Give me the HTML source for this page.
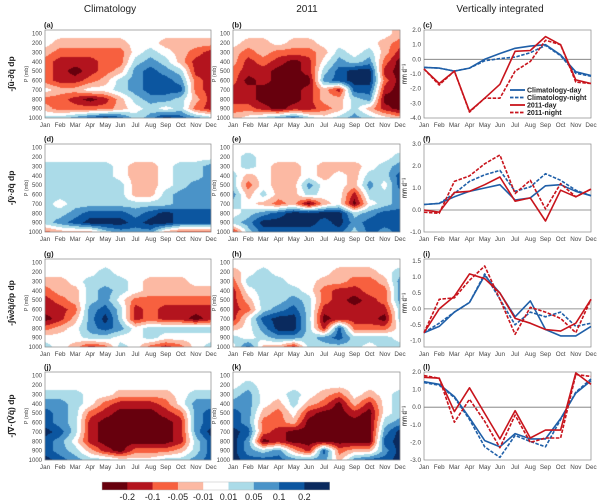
<!DOCTYPE html>
<html><head><meta charset="utf-8">
<style>
html,body{margin:0;padding:0;background:#fff;}
#wrap{position:relative;width:600px;height:504px;overflow:hidden;font-family:"Liberation Sans",sans-serif;}
canvas{position:absolute;left:0;top:0;}
svg{position:absolute;left:0;top:0;}
</style></head>
<body>
<div id="wrap">
<canvas id="cv" width="600" height="504"></canvas>
<svg id="sv" width="600" height="504" xmlns="http://www.w3.org/2000/svg"></svg>
</div>
<script>
// ---------- data ----------
const months = ["Jan","Feb","Mar","Apr","May","Jun","Jul","Aug","Sep","Oct","Nov","Dec"];
const levels = [100,200,300,400,500,600,700,800,900,1000];
const colorbarTicks = ["-0.2","-0.1","-0.05","-0.01","0.01","0.05","0.1","0.2"];
// contour level-class index (-4..4) per pressure level (rows) and month (cols)
const panelA = [
[0,0,0,0,0,0,0,0,0,0,0,0],
[0,-1,-1,-1,-1,-1,0,0,-1,-1,-1,-1],
[-1,-2,-2,-2,-2,-2,0,1,0,-1,-2,-3],
[-2,-3,-3,-3,-2,-2,1,2,1,-1,-3,-3],
[-2,-3,-4,-3,-2,-1,2,3,2,1,-3,-3],
[-2,-3,-3,-2,-1,1,2,3,3,2,-2,-3],
[0,-1,-1,0,0,1,2,3,3,3,-2,-3],
[-2,-2,-3,-4,-3,-1,1,2,2,1,-1,-3],
[-1,-2,-2,-2,-2,-1,0,1,0,1,-2,-3],
[1,1,2,3,4,3,1,2,4,3,2,1]];
const panelB = [
[0,0,0,0,0,0,0,0,0,0,0,-1],
[0,-1,-1,0,-1,-1,0,0,0,0,-1,-2],
[-1,-2,-1,-2,-2,-2,-1,1,0,1,-1,-3],
[-1,-3,-2,-3,-4,-3,0,2,1,2,-2,-4],
[-2,-3,-3,-4,-4,-3,1,3,4,4,-3,-4],
[-2,-4,-3,-4,-4,-4,2,3,4,4,-2,-4],
[-3,-3,-4,-4,-4,-3,-1,-3,3,3,-3,-4],
[-3,-3,-4,-4,-4,-3,-1,-1,1,2,-4,-4],
[-2,-2,-3,-4,-3,-3,-2,-1,1,-1,-3,-4],
[-1,0,1,2,3,1,0,1,2,1,0,-1]];
const panelD = [
[0,0,0,0,0,0,0,0,0,0,0,0],
[0,0,0,0,0,0,0,0,0,0,0,0],
[1,1,1,1,1,0,-1,-1,0,1,1,2],
[1,1,1,1,1,0,-1,-1,0,1,1,2],
[1,1,1,1,1,1,-1,-1,0,1,2,2],
[1,1,1,1,1,1,-1,-1,1,2,2,2],
[1,0,1,1,1,1,1,1,1,2,2,2],
[1,1,2,3,3,3,2,3,4,3,3,3],
[1,2,3,4,4,4,3,4,4,3,3,3],
[-2,-1,-1,-1,1,2,2,2,-1,-2,-2,-2]];
const panelE = [
[0,0,0,0,0,0,0,0,0,0,0,0],
[0,1,0,0,0,0,0,0,0,0,0,1],
[0,1,0,-1,-1,0,-1,-1,-1,0,1,2],
[1,-1,0,-1,-1,0,-1,0,-1,1,1,3],
[1,-2,0,-1,-1,2,0,0,-1,2,0,3],
[2,-1,1,-1,-1,1,0,0,-3,1,1,2],
[1,0,-1,-2,-1,-4,-1,0,-4,0,1,2],
[0,1,2,3,4,4,4,4,1,2,3,3],
[1,2,4,4,4,4,3,4,2,3,3,3],
[-3,1,3,3,3,3,3,3,1,3,2,3]];
const panelG = [
[0,0,0,0,0,0,0,0,0,0,0,0],
[0,0,0,0,1,0,0,0,0,0,0,0],
[-1,-1,0,1,1,1,0,-1,-1,-1,0,0],
[-2,-1,-1,1,2,1,0,-1,-1,-1,-1,-1],
[-3,-2,-1,1,2,0,-2,-2,-2,-2,-2,-2],
[-3,-3,-2,2,3,1,-3,-2,-3,-3,-3,-3],
[-4,-3,-1,2,4,1,-3,-2,-3,-3,-4,-3],
[-2,-1,0,2,3,2,0,1,1,1,1,1],
[0,0,0,1,1,0,0,1,0,0,0,0],
[1,0,-1,-3,-2,1,0,-2,-3,-2,0,1]];
const panelH = [
[0,0,0,0,0,0,0,0,0,0,0,0],
[-1,0,1,0,0,0,0,-1,-1,-1,0,1],
[-2,1,1,1,0,0,-1,-1,-2,-2,-1,2],
[-3,0,1,1,1,0,-2,-3,-3,-2,-2,2],
[-3,-1,1,1,2,1,-2,-3,-4,-3,-2,2],
[-3,-2,1,2,3,1,-3,-3,-3,-3,-3,1],
[-3,0,3,4,4,1,-4,-3,-3,-3,-4,1],
[-1,0,2,4,4,1,-3,3,-2,-2,-2,0],
[1,0,1,2,2,1,2,3,1,1,1,0],
[0,3,-1,-1,-3,1,1,1,1,0,1,1]];
const panelJ = [
[0,0,0,0,0,0,0,0,0,0,0,0],
[0,0,0,0,0,0,0,0,0,0,0,0],
[1,1,1,0,0,-1,-1,-1,-1,0,1,1],
[2,2,1,0,-2,-3,-3,-3,-2,0,2,2],
[3,2,1,-2,-3,-4,-4,-4,-3,-2,2,3],
[3,2,1,-3,-4,-4,-4,-4,-4,-3,2,3],
[4,3,1,-3,-4,-4,-4,-4,-4,-3,2,4],
[3,2,0,-3,-4,-4,-4,-4,-4,-3,1,3],
[3,2,1,-1,-3,-4,-2,-2,-2,-1,1,3],
[4,3,2,1,1,0,0,0,1,1,2,3]];
const panelK = [
[0,0,0,0,0,0,0,0,0,0,0,0],
[0,1,0,0,0,0,0,0,0,0,0,0],
[1,2,0,0,1,0,-1,-2,0,-1,0,1],
[2,2,0,-1,1,-1,-2,-4,-1,-3,0,1],
[3,2,-1,-2,0,-3,-4,-4,-3,-4,0,1],
[3,2,-2,-2,-1,-4,-4,-4,-4,-4,1,2],
[4,3,-2,-3,-4,-4,-4,-4,-4,-4,2,4],
[4,2,-4,-3,-4,-4,-4,-4,-4,-4,3,4],
[4,2,1,2,-1,-3,3,-2,-1,-1,2,4],
[4,3,3,3,2,2,2,-1,2,3,3,4]];
// line panels (mm/day)
const cClimDay   = [-0.55,-0.6,-0.8,-0.6,0,0.4,0.75,0.9,1.0,0.3,-0.85,-1.1];
const cClimNight = [-0.55,-0.6,-0.8,-0.6,-0.1,0.05,0.15,0.45,0.95,0.25,-0.95,-1.15];
const c2011Day   = [-0.65,-1.65,-0.8,-3.55,-2.65,-1.7,0.55,0.6,1.55,1.0,-1.4,-1.65];
const c2011Night = [-0.65,-1.75,-0.8,-3.6,-2.65,-2.65,-0.8,-0.15,1.3,1.0,-1.55,-1.65];
const fClimDay   = [0.25,0.3,0.6,0.85,1.0,1.15,0.45,0.55,1.1,1.15,0.85,0.65];
const fClimNight = [0.25,0.3,0.75,1.3,1.6,1.8,0.85,1.05,1.65,1.35,0.9,0.65];
const f2011Day   = [0,-0.1,0.8,0.85,1.15,1.5,0.4,0.55,-0.5,0.9,0.6,0.95];
const f2011Night = [-0.1,-0.15,1.3,1.55,2.1,2.5,0.75,1.35,0.05,1.2,0.6,0.95];
const iClimDay   = [-0.75,-0.55,-0.1,0.2,1.05,0.5,-0.25,0.25,-0.65,-0.85,-0.85,-0.55];
const iClimNight = [-0.75,-0.45,-0.1,0.2,1.1,0.3,-0.5,-0.1,-0.25,-0.1,-0.55,-0.45];
const i2011Day   = [-0.75,0,0.4,1.1,0.95,0.5,-0.3,-0.45,-0.65,-0.7,-0.45,0.3];
const i2011Night = [-0.75,0.3,0.35,0.9,1.35,0.3,-0.8,0.05,-0.1,-0.3,-0.75,0.3];
const lClimDay   = [1.45,1.3,0.6,-0.6,-1.9,-2.25,-1.5,-1.8,-1.8,-0.65,0.8,1.5];
const lClimNight = [1.4,1.25,0.55,-0.7,-2.25,-2.85,-1.6,-1.95,-2.25,-0.7,0.85,1.6];
const l2011Day   = [1.7,1.65,-0.25,1.1,-0.35,-1.8,-0.2,-1.75,-1.3,-1.3,1.95,1.3];
const l2011Night = [1.8,1.65,-0.85,0.45,-0.8,-2.3,-0.45,-2.0,-1.75,-1.75,1.85,1.75];
const cTicks = [2,1,0,-1,-2,-3,-4];
const fTicks = [3,2,1,0,-1];
const iTicks = [1.5,1,0.5,0,-0.5,-1];
const lTicks = [2,1,0,-1,-2,-3];

// ---------- layout ----------
const colors = ['#67000d','#b3141e','#f7603f','#fcb9a3','#ffffff','#abdbe8','#4a93c8','#0c56a0','#0a2a5e'];
const rowTop = [30,144,259,372], H = 88;
const colA = [45,211], colB = [233,400], colC = [424,591];
const NS = "http://www.w3.org/2000/svg";
const sv = document.getElementById('sv');
const ctx = document.getElementById('cv').getContext('2d');
function el(tag, attrs, parent, text){
  const e = document.createElementNS(NS, tag);
  for (const k in attrs) e.setAttribute(k, attrs[k]);
  if (text !== undefined) e.textContent = text;
  (parent||sv).appendChild(e);
  return e;
}
function txt(x,y,s,size,opts,name){
  const t = el('text', Object.assign({x:x,y:y,'font-size':size,'font-family':'Liberation Sans, DejaVu Sans, sans-serif',fill:'#222'},opts||{}), sv, s);
  
  
  return t;
}
function monthAxis(x0,x1,top,g){
  months.forEach((m,i)=>{
    const x = x0 + i/11*(x1-x0);
    const t = txt(x, top+H+9, m, 6.3, {'text-anchor':'middle',fill:'#444'}, 'month-tick-label');
  });
}

// ---------- contour panels ----------
function contour(data, x0, x1, top, letter, name, showMM){
  const w = x1-x0;
  const pTop = 60;
  for (let py=0; py<H; py++){
    const p = pTop + (py+0.5)/H*(1000-pTop);
    let r = (p-100)/100; if (r<0) r=0; if (r>9) r=9;
    const r0 = Math.min(8, Math.floor(r)), fr = r - r0;
    for (let px=0; px<w; px++){
      const c = (px+0.5)/w*11;
      const c0 = Math.min(10, Math.floor(c)), fc = c - c0;
      const v = (data[r0][c0]*(1-fc)+data[r0][c0+1]*fc)*(1-fr) + (data[r0+1][c0]*(1-fc)+data[r0+1][c0+1]*fc)*fr;
      let k = Math.round(v); if (k<-4) k=-4; if (k>4) k=4;
      ctx.fillStyle = colors[k+4];
      ctx.fillRect(x0+px, top+py, 1, 1);
    }
  }
  const g = el('rect',{x:x0,y:top,width:w,height:H,fill:'none',stroke:'#888','stroke-width':0.7});
  
  
  levels.forEach(p=>{
    const y = top + (p-pTop)/(1000-pTop)*H;
    txt(x0-3, y+2, String(p), 6, {'text-anchor':'end',fill:'#444'}, 'pressure-tick-label');
  });
  txt(x0-1, top-2.5, '('+letter+')', 7.5, {'font-weight':'bold','text-anchor':'start'}, 'panel-letter');
  txt(x0-17, top+H/2, 'P (mb)', 5.5, {'text-anchor':'middle',fill:'#444',transform:'rotate(-90 '+(x0-17)+' '+(top+H/2)+')'}, 'pressure-axis-title');
  if (showMM) txt(x1+6, top+H/2, 'mm d\u207B\u00B9', 6, {'text-anchor':'middle',fill:'#444',transform:'rotate(-90 '+(x1+6)+' '+(top+H/2)+')'}, 'units-label');
  monthAxis(x0,x1,top);
}

// ---------- line panels ----------
function linePanel(series, ymin, ymax, ticks, top, letter, legend){
  const x0 = colC[0], x1 = colC[1];
  const xs = i => x0 + i/11*(x1-x0);
  const ys = v => top + (ymax - v)/(ymax-ymin)*H;
  const fr = el('rect',{x:x0,y:top,width:x1-x0,height:H,fill:'none',stroke:'#888','stroke-width':0.7});
  
  
  const z = el('line',{x1:x0,x2:x1,y1:ys(0),y2:ys(0),stroke:'#777','stroke-width':0.8});
  
  
  ticks.forEach(t=>{
    txt(x0-3, ys(t)+2, t.toFixed(1), 6.3, {'text-anchor':'end',fill:'#444'}, 'y-tick-label');
  });
  txt(x0-1, top-2.5, '('+letter+')', 7.5, {'font-weight':'bold'}, 'panel-letter');
  txt(x0-17, top+H/2, 'mm d\u207B\u00B9', 6, {'text-anchor':'middle',fill:'#444',transform:'rotate(-90 '+(x0-17)+' '+(top+H/2)+')'}, 'y-axis-title');
  monthAxis(x0,x1,top);
  series.forEach(s=>{
    const pts = s.v.map((v,i)=>xs(i).toFixed(1)+','+ys(v).toFixed(1)).join(' ');
    const pl = el('polyline',{points:pts,fill:'none',stroke:s.c,'stroke-width':1.6,'stroke-dasharray':s.d?'3.5,1.5':'none','stroke-linejoin':'round'});
    
    
  });
  if (legend){
    const names = ['Climatology-day','Climatology-night','2011-day','2011-night'];
    series.forEach((s,i)=>{
      const y = top + 60 + i*7.5;
      const l = el('line',{x1:510,x2:525,y1:y,y2:y,stroke:s.c,'stroke-width':1.8,'stroke-dasharray':s.d?'3.5,1.5':'none'});
      
      
      txt(527, y+2.5, names[i], 7, {'font-weight':'bold'}, 'legend-entry');
    });
  }
}
const BLUE='#1f5fa8', RED='#c8141c';
function S(a,b,c,d){return [{v:a,c:BLUE,d:false,n:'clim-day-line'},{v:b,c:BLUE,d:true,n:'clim-night-line'},{v:c,c:RED,d:false,n:'y2011-day-line'},{v:d,c:RED,d:true,n:'y2011-night-line'}];}

contour(panelA, colA[0], colA[1], rowTop[0], 'a', 'panel-a', false);
contour(panelB, colB[0], colB[1], rowTop[0], 'b', 'panel-b', true);
contour(panelD, colA[0], colA[1], rowTop[1], 'd', 'panel-d', false);
contour(panelE, colB[0], colB[1], rowTop[1], 'e', 'panel-e', true);
contour(panelG, colA[0], colA[1], rowTop[2], 'g', 'panel-g', false);
contour(panelH, colB[0], colB[1], rowTop[2], 'h', 'panel-h', true);
contour(panelJ, colA[0], colA[1], rowTop[3], 'j', 'panel-j', false);
contour(panelK, colB[0], colB[1], rowTop[3], 'k', 'panel-k', true);
linePanel(S(cClimDay,cClimNight,c2011Day,c2011Night), -4, 2, cTicks, rowTop[0], 'c', true);
linePanel(S(fClimDay,fClimNight,f2011Day,f2011Night), -1, 3, fTicks, rowTop[1], 'f', false);
linePanel(S(iClimDay,iClimNight,i2011Day,i2011Night), -1.2, 1.57, iTicks, rowTop[2], 'i', false);
linePanel(S(lClimDay,lClimNight,l2011Day,l2011Night), -3, 2, lTicks, rowTop[3], 'l', false);

// column titles
txt(110, 12, 'Climatology', 10, {'text-anchor':'middle'}, 'column-title-climatology');
txt(307, 12, '2011', 10, {'text-anchor':'middle'}, 'column-title-2011');
txt(500, 12, 'Vertically integrated', 10, {'text-anchor':'middle'}, 'column-title-integrated');
// row titles
const rowTitles = ['-\u222Bu\u0304\u00B7\u2202q\u0304 dp','-\u222Bv\u0304\u00B7\u2202q\u0304 dp','-\u222Bw\u0304\u2202q\u0304/\u2202p dp','-\u222B\u2207\u00B7(V\u0304q\u0304) dp'];
rowTitles.forEach((s,i)=>{
  const y = rowTop[i]+H/2, x = 14;
  txt(x, y, s, 8.5, {'text-anchor':'middle','font-weight':'bold',transform:'rotate(-90 '+x+' '+y+')'}, 'row-title');
});
// colorbar
const cbX = 102, cbW = 25.3, cbY = 482, cbH = 8;
colors.forEach((c,i)=>{
  const r = el('rect',{x:cbX+i*cbW,y:cbY,width:cbW+0.3,height:cbH,fill:c,stroke:'none'});
  
  
});
const cbf = el('rect',{x:cbX,y:cbY,width:cbW*9,height:cbH,fill:'none',stroke:'#bbb','stroke-width':0.5});


colorbarTicks.forEach((t,i)=>{
  txt(cbX+(i+1)*cbW, 500, t, 9, {'text-anchor':'middle'}, 'colorbar-tick-label');
});
</script>
</body></html>
